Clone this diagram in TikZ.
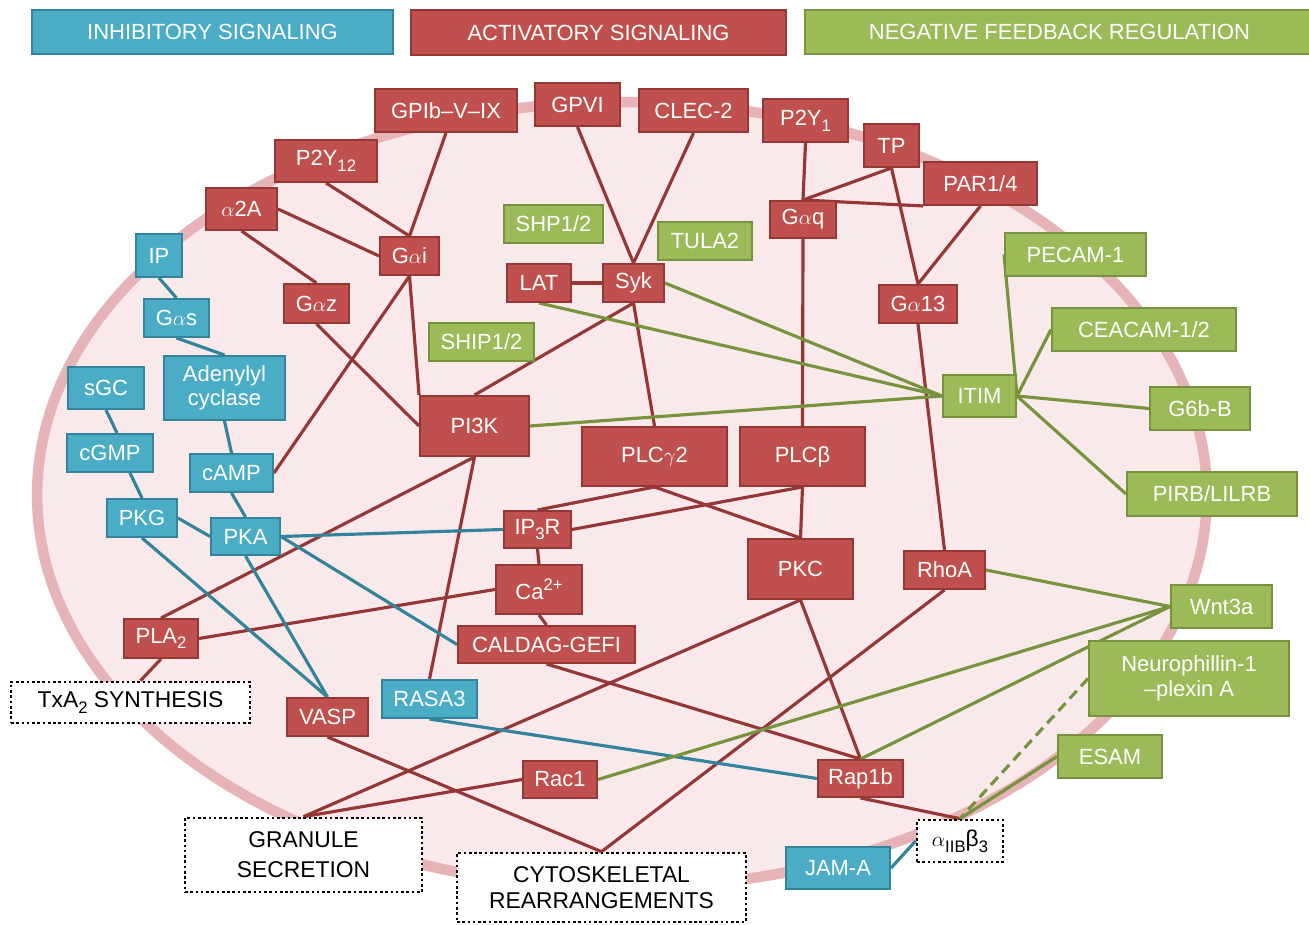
\documentclass[tikz,border=0pt]{standalone}
\usepackage{fontspec}
\setmainfont{Liberation Sans}
\usetikzlibrary{calc}
\definecolor{rfill}{HTML}{C0504D}
\definecolor{rdraw}{HTML}{953735}
\definecolor{rline}{HTML}{953735}
\definecolor{bfill}{HTML}{4BACC6}
\definecolor{bdraw}{HTML}{31849B}
\definecolor{bline}{HTML}{31849B}
\definecolor{gfill}{HTML}{9BBB59}
\definecolor{gdraw}{HTML}{76923C}
\definecolor{gline}{HTML}{77933C}
\definecolor{ellfill}{HTML}{FAE9EB}
\definecolor{elldraw}{HTML}{E6B3B6}
\pgfdeclarelayer{bg}
\pgfsetlayers{bg,main}
\newcommand\mysub[1]{\raisebox{-0.5ex}{\fontsize{9.5}{10}\selectfont #1}}
\newcommand\mysup[1]{\raisebox{0.75ex}{\fontsize{9.5}{10}\selectfont #1}}
\tikzset{
  base/.style={draw, line width=1.1pt, inner sep=0pt, text=white, font=\fontsize{12.5}{14}\selectfont, align=center},
  rbox/.style={base, fill=rfill, draw=rdraw},
  bbox/.style={base, fill=bfill, draw=bdraw},
  gbox/.style={base, fill=gfill, draw=gdraw},
  obox/.style={base, fill=white, draw=black, line width=1.5pt, dash pattern=on 1.5pt off 1.5pt, text=black, font=\fontsize{13}{15}\selectfont},
  rl/.style={draw=rline, line width=1.8pt},
  bl/.style={draw=bline, line width=1.8pt},
  gl/.style={draw=gline, line width=1.8pt},
}
\newcommand\mybox[7]{\node[#1, minimum width={(#5-#3)*0.02cm}, minimum height={(#6-#4)*0.02cm}] (#2) at ({(#3+#5)/2},{(#4+#6)/2}) {#7};}
\begin{document}
\begin{tikzpicture}[x=0.02cm, y=-0.02cm]
\useasboundingbox (0,0) rectangle (1309,925);
\begin{pgfonlayer}{bg}
\draw[fill=ellfill, draw=elldraw, line width=6pt] (622,495) ellipse [x radius=11.7cm, y radius=7.86cm];
\end{pgfonlayer}
% legend
\mybox{bbox}{inh}{32}{10}{393}{54}{INHIBITORY SIGNALING}
\mybox{rbox}{act}{411}{10}{786}{55}{ACTIVATORY SIGNALING}
\mybox{gbox}{neg}{805}{10}{1314}{54}{NEGATIVE FEEDBACK REGULATION}
% red nodes
\mybox{rbox}{gpib}{375}{89}{517}{132}{GPIb–V–IX}
\mybox{rbox}{gpvi}{535}{83}{620}{126}{GPVI}
\mybox{rbox}{clec}{639}{89}{748}{132}{CLEC-2}
\mybox{rbox}{p2y1}{763}{99}{848}{142}{P2Y\mysub{1}}
\mybox{rbox}{tp}{864}{124}{919}{167}{TP}
\mybox{rbox}{par}{924}{162}{1037}{205}{PAR1/4}
\mybox{rbox}{p2y12}{275}{140}{377}{182}{P2Y\mysub{12}}
\mybox{rbox}{a2a}{206}{188}{277}{230}{$\alpha$2A}
\mybox{rbox}{gai}{380}{237}{439}{275}{G$\alpha$i}
\mybox{rbox}{gaz}{284}{284}{349}{323}{G$\alpha$z}
\mybox{rbox}{gaq}{770}{201}{836}{238}{G$\alpha$q}
\mybox{rbox}{lat}{507}{264}{571}{302}{LAT}
\mybox{rbox}{syk}{603}{264}{664}{302}{Syk}
\mybox{rbox}{g13}{879}{285}{957}{323}{G$\alpha$13}
\mybox{rbox}{pi3k}{420}{396}{529}{456}{PI3K}
\mybox{rbox}{plcg}{582}{427}{727}{486}{PLC$\gamma$2}
\mybox{rbox}{plcb}{740}{427}{865}{486}{PLCβ}
\mybox{rbox}{ip3r}{504}{511}{571}{548}{IP\mysub{3}R}
\mybox{rbox}{ca}{496}{565}{582}{614}{Ca\mysup{2+}}
\mybox{rbox}{caldag}{458}{626}{635}{663}{CALDAG-GEFI}
\mybox{rbox}{pkc}{748}{539}{853}{599}{PKC}
\mybox{rbox}{rhoa}{904}{551}{985}{589}{RhoA}
\mybox{rbox}{pla}{124}{619}{198}{658}{PLA\mysub{2}}
\mybox{rbox}{vasp}{287}{698}{368}{736}{VASP}
\mybox{rbox}{rac}{523}{761}{597}{798}{Rac1}
\mybox{rbox}{rap}{818}{760}{903}{797}{Rap1b}
% blue nodes
\mybox{bbox}{ip}{136}{234}{182}{277}{IP}
\mybox{bbox}{gas}{144}{299}{209}{337}{G$\alpha$s}
\mybox{bbox}{ac}{164}{356}{285}{420}{Adenylyl\\cyclase}
\mybox{bbox}{sgc}{68}{367}{144}{409}{sGC}
\mybox{bbox}{cgmp}{67}{434}{153}{472}{cGMP}
\mybox{bbox}{camp}{190}{454}{273}{492}{cAMP}
\mybox{bbox}{pkg}{107}{499}{177}{537}{PKG}
\mybox{bbox}{pka}{211}{518}{280}{555}{PKA}
\mybox{bbox}{rasa}{382}{680}{477}{718}{RASA3}
\mybox{bbox}{jam}{786}{847}{890}{889}{JAM-A}
% green nodes
\mybox{gbox}{shp}{504}{205}{603}{243}{SHP1/2}
\mybox{gbox}{tula}{658}{222}{752}{260}{TULA2}
\mybox{gbox}{ship}{429}{323}{534}{361}{SHIP1/2}
\mybox{gbox}{pecam}{1005}{233}{1146}{276}{PECAM-1}
\mybox{gbox}{ceacam}{1052}{308}{1236}{351}{CEACAM-1/2}
\mybox{gbox}{itim}{943}{375}{1016}{417}{ITIM}
\mybox{gbox}{g6b}{1150}{387}{1250}{430}{G6b-B}
\mybox{gbox}{pirb}{1127}{472}{1297}{516}{PIRB/LILRB}
\mybox{gbox}{wnt}{1171}{585}{1272}{628}{Wnt3a}
\mybox{gbox}{neuro}{1089}{641}{1289}{716}{Neurophillin-1\\–plexin A}
\mybox{gbox}{esam}{1058}{735}{1162}{778}{ESAM}
% outcome boxes
\mybox{obox}{txa}{11}{682}{250}{723}{TxA\mysub{2} SYNTHESIS}
\mybox{obox}{gran}{185}{818}{422}{892}{GRANULE\\[2pt]SECRETION}
\mybox{obox}{cyto}{457}{853}{746}{922}{CYTOSKELETAL\\REARRANGEMENTS}
\mybox{obox}{integ}{917}{820}{1003}{862}{$\alpha$\mysub{IIB}β\mysub{3}}
\begin{pgfonlayer}{bg}
% red connectors
\draw[rl] (gpib.south) -- (gai.north);
\draw[rl] (p2y12.south) -- (gai.north);
\draw[rl] (a2a.east) -- (gai.west);
\draw[rl] (a2a.south) -- (gaz.north);
\draw[rl] (gai.south) -- (camp.east);
\draw[rl] (gai.south) -- (pi3k.north west);
\draw[rl] (gaz.south) -- (pi3k.west);
\draw[rl] (gpvi.south) -- (syk.north);
\draw[rl] (clec.south) -- (syk.north);
\draw[rl] (lat.east) -- (syk.west);
\draw[rl] (syk.south) -- (pi3k.north);
\draw[rl] (syk.south) -- (plcg.north);
\draw[rl] (p2y1.south) -- (gaq.north);
\draw[rl] (tp.south) -- (gaq.north);
\draw[rl] (gaq.north) -- (par.south west);
\draw[rl] (tp.south) -- (g13.north);
\draw[rl] (par.south) -- (g13.north);
\draw[rl] (gaq.south) -- (plcb.north);
\draw[rl] (g13.south) -- (rhoa.north);
\draw[rl] (plcg.south) -- (ip3r.north);
\draw[rl] (plcg.south) -- (pkc.north);
\draw[rl] (plcb.south) -- (ip3r.east);
\draw[rl] (plcb.south) -- (pkc.north);
\draw[rl] (ip3r.south) -- (ca.north);
\draw[rl] (ca.south) -- (caldag.north);
\draw[rl] (ca.west) -- (pla.east);
\draw[rl] (pi3k.south) -- (pla.north);
\draw[rl] (pi3k.south) -- (rasa.north);
\draw[rl] (caldag.south) -- (rap.north);
\draw[rl] (pkc.south) -- (rap.north);
\draw[rl] (pkc.south) -- (gran.north);
\draw[rl] (rac.west) -- (gran.north);
\draw[rl] (pla.south) -- ($(txa.north)+(10,0)$);
\draw[rl] (vasp.south) -- (cyto.north);
\draw[rl] (rhoa.south) -- (cyto.north);
\draw[rl] (rap.south) -- (integ.north);
% blue connectors
\draw[bl] (ip.south) -- (gas.north);
\draw[bl] (gas.south) -- (ac.north);
\draw[bl] (ac.south) -- (camp.north);
\draw[bl] (sgc.south) -- ($(cgmp.north)+(7,0)$);
\draw[bl] ($(cgmp.south)+(20,0)$) -- (pkg.north);
\draw[bl] (camp.south) -- (pka.north);
\draw[bl] (pkg.east) -- (pka.west);
\draw[bl] (pka.east) -- (ip3r.west);
\draw[bl] (pka.east) -- (caldag.west);
\draw[bl] (pka.south) -- (vasp.north);
\draw[bl] (pkg.south) -- (vasp.north);
\draw[bl] (rasa.south) -- (rap.west);
\draw[bl] (jam.east) -- (integ.west);
% green connectors
\draw[gl] (lat.south) -- (itim.west);
\draw[gl] (syk.east) -- (itim.west);
\draw[gl] (pi3k.east) -- (itim.west);
\draw[gl] (pecam.west) -- (itim.east);
\draw[gl] (ceacam.west) -- (itim.east);
\draw[gl] (g6b.west) -- (itim.east);
\draw[gl] (pirb.west) -- (itim.east);
\draw[gl] (rhoa.east) -- (wnt.west);
\draw[gl] (wnt.west) -- (rac.east);
\draw[gl] (wnt.west) -- (rap.north);
\draw[gl, dash pattern=on 6pt off 3.5pt] (neuro.west) -- (integ.north);
\draw[gl] (esam.west) -- (integ.north);
\end{pgfonlayer}
\end{tikzpicture}
\end{document}
